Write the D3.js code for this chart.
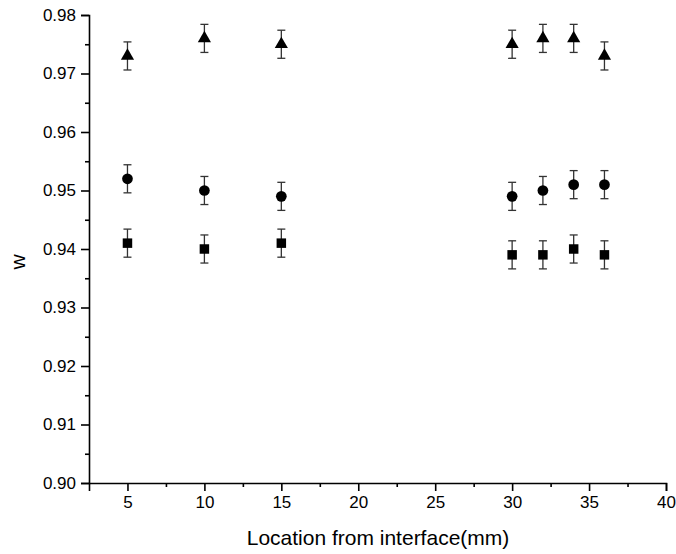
<!DOCTYPE html>
<html>
<head>
<meta charset="utf-8">
<script src="https://cdn.jsdelivr.net/npm/d3@7"></script>
<style>
  body { margin: 0; background: #fff; }
  text { font-family: Arial, "Liberation Sans", sans-serif; fill: #000; }
</style>
</head>
<body>
<svg id="chart" width="676" height="554"></svg>
<script>
// location along the sample (mm)
const locations = [5, 10, 15, 30, 32, 34, 36];

// w values per series
const triangleValues = [0.973, 0.976, 0.975, 0.975, 0.976, 0.976, 0.973];
const circleValues = [0.952, 0.950, 0.949, 0.949, 0.950, 0.951, 0.951];
const squareValues = [0.941, 0.940, 0.941, 0.939, 0.939, 0.940, 0.939];
const errorHalf = 0.0024;

const xTicks = [5, 10, 15, 20, 25, 30, 35, 40];
const yTicks = [0.90, 0.91, 0.92, 0.93, 0.94, 0.95, 0.96, 0.97, 0.98];

const svg = d3.select('#chart');

const x = d3.scaleLinear().domain([2.5, 40]).range([89, 666]);
const y = d3.scaleLinear().domain([0.90, 0.98]).range([483, 15]);

// axes: major ticks outward, minor ticks in between
const xAxis = d3.axisBottom(x).tickValues(xTicks).tickFormat(d3.format('d'))
  .tickSize(8).tickPadding(5);
const xMinor = d3.axisBottom(x).tickValues(d3.range(7.5, 40, 5)).tickSize(4).tickFormat('');
const yAxis = d3.axisLeft(y).tickValues(yTicks).tickFormat(d3.format('.2f'))
  .tickSize(8).tickPadding(5);
const yMinor = d3.axisLeft(y).tickValues(d3.range(0.905, 0.98, 0.01)).tickSize(4).tickFormat('');

function styleAxis(g) {
  g.selectAll('.domain').attr('stroke', '#000').attr('stroke-width', 1.6);
  g.selectAll('line').attr('stroke', '#000').attr('stroke-width', 1.6);
  g.selectAll('text').style('font-size', '17px');
}

svg.append('g').attr('transform', 'translate(0,483)').call(xAxis).call(styleAxis);
svg.append('g').attr('transform', 'translate(0,483)').call(xMinor).call(styleAxis)
  .select('.domain').remove();
svg.append('g').attr('transform', 'translate(89,0)').call(yAxis).call(styleAxis);
svg.append('g').attr('transform', 'translate(89,0)').call(yMinor).call(styleAxis)
  .select('.domain').remove();

svg.append('text')
  .attr('x', 378).attr('y', 545)
  .attr('text-anchor', 'middle')
  .style('font-size', '21px')
  .text('Location from interface(mm)');

svg.append('text')
  .attr('transform', 'translate(25,262) rotate(-90)')
  .attr('text-anchor', 'middle')
  .style('font-size', '21px')
  .text('w');

const series = [
  { values: triangleValues, symbol: d3.symbolTriangle, size: 75 },
  { values: circleValues, symbol: d3.symbolCircle, size: 90 },
  { values: squareValues, symbol: d3.symbolSquare, size: 90 },
];

series.forEach(s => {
  const pts = locations.map((loc, i) => ({ loc, v: s.values[i] }));
  const g = svg.append('g');

  const err = g.selectAll('.err').data(pts).enter().append('g')
    .attr('stroke', '#333').attr('stroke-width', 1.3);
  err.append('line')
    .attr('x1', d => x(d.loc)).attr('x2', d => x(d.loc))
    .attr('y1', d => y(d.v - errorHalf)).attr('y2', d => y(d.v + errorHalf));
  err.append('line')
    .attr('x1', d => x(d.loc) - 4).attr('x2', d => x(d.loc) + 4)
    .attr('y1', d => y(d.v + errorHalf)).attr('y2', d => y(d.v + errorHalf));
  err.append('line')
    .attr('x1', d => x(d.loc) - 4).attr('x2', d => x(d.loc) + 4)
    .attr('y1', d => y(d.v - errorHalf)).attr('y2', d => y(d.v - errorHalf));

  g.selectAll('.pt').data(pts).enter().append('path')
    .attr('d', d3.symbol().type(s.symbol).size(s.size))
    .attr('transform', d => `translate(${x(d.loc)},${y(d.v)})`)
    .attr('fill', '#000');
});
</script>
</body>
</html>
